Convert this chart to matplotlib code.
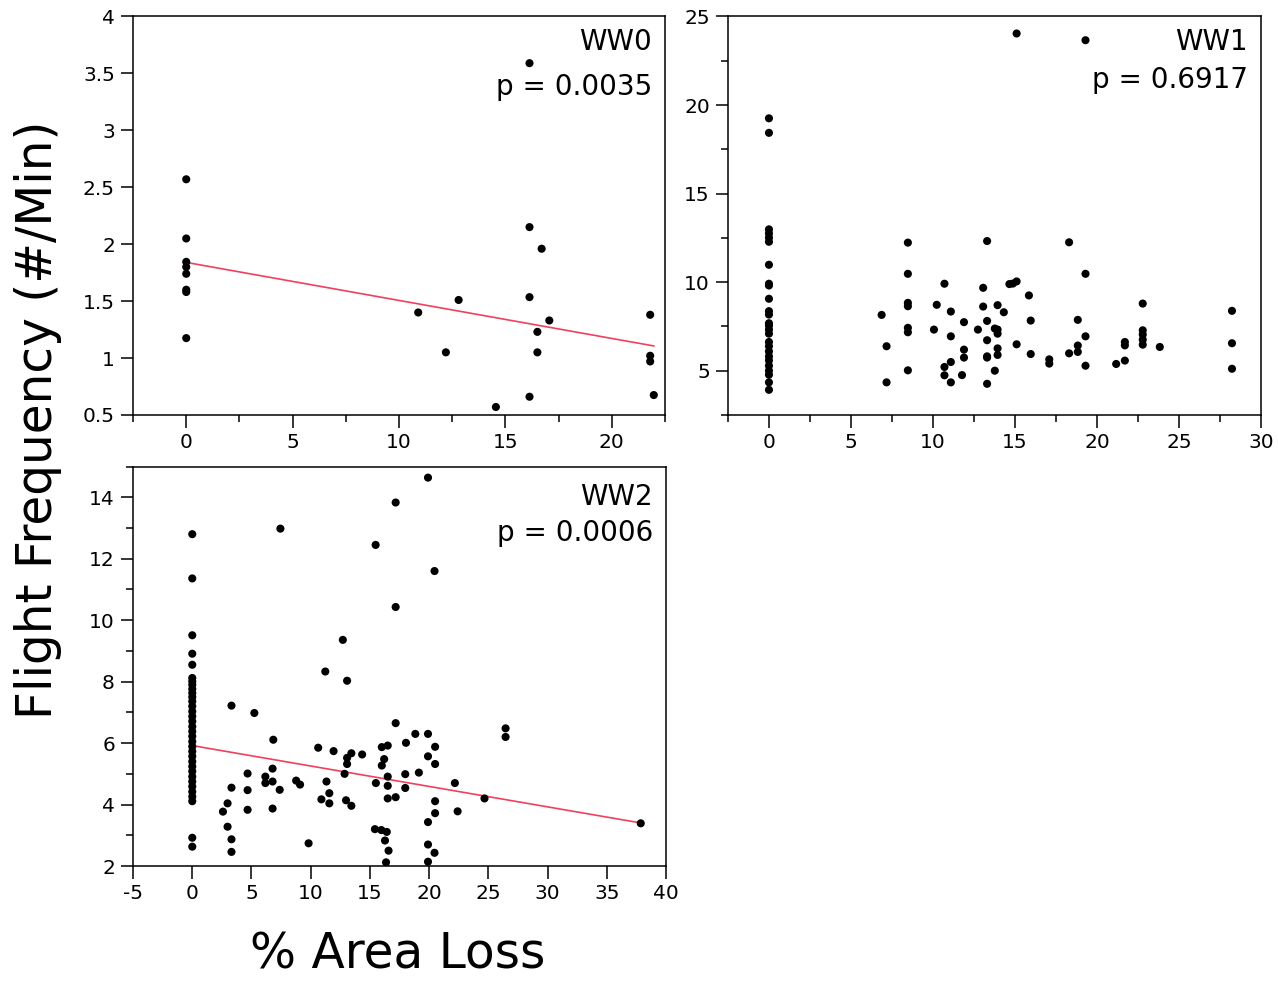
import numpy as np
import matplotlib
matplotlib.use('Agg')
import matplotlib.pyplot as plt
from matplotlib.ticker import MultipleLocator, FuncFormatter

# % area loss (x) and flight frequency (y) for each panel
ww0_x = [0, 0, 0, 0, 0, 0, 0, 0, 10.9, 12.2, 12.8, 14.55, 16.13, 16.13, 16.13, 16.13,
         16.5, 16.5, 16.7, 17.06, 21.8, 21.8, 21.8, 21.97]
ww0_y = [2.57, 2.05, 1.845, 1.80, 1.74, 1.60, 1.58, 1.175, 1.40, 1.05, 1.51, 0.57, 3.59, 2.15, 1.535, 0.66,
         1.23, 1.05, 1.96, 1.33, 1.38, 1.02, 0.97, 0.675]

ww1_x = [0] * 26 + [
    6.87, 7.17, 7.17, 8.47, 8.47, 8.47, 8.47, 8.47, 8.47, 8.47, 10.06, 10.23, 10.7, 10.7, 10.7,
    11.09, 11.09, 11.09, 11.09, 11.77, 11.89, 11.89, 11.89, 12.74, 13.06, 13.06, 13.3, 13.3, 13.3,
    13.3, 13.3, 13.3, 13.77, 13.77, 13.94, 13.94, 13.94, 13.94, 13.94, 14.32, 14.66, 14.87, 15.1,
    15.1, 15.1, 15.85, 15.96, 15.96, 17.09, 17.09, 18.3, 18.3, 18.83, 18.83, 18.83, 19.3, 19.3,
    19.3, 19.3, 21.17, 21.7, 21.7, 21.7, 22.79, 22.79, 22.79, 22.79, 22.79, 23.83, 28.23, 28.23, 28.23]
ww1_y = [19.25, 18.43, 12.98, 12.75, 12.51, 12.28, 10.98, 9.91, 9.81, 9.06, 8.36, 8.17, 7.68, 7.55,
         7.32, 7.09, 6.62, 6.38, 6.09, 5.81, 5.58, 5.28, 5.0, 4.77, 4.34, 3.92] + [
    8.15, 6.38, 4.34, 12.23, 10.47, 8.83, 8.64, 7.42, 7.17, 5.02, 7.32, 8.72, 9.91, 5.21, 4.74,
    8.34, 6.94, 5.49, 4.34, 4.75, 7.74, 6.19, 5.74, 7.32, 9.68, 8.62, 12.32, 7.81, 6.72,
    5.81, 5.74, 4.26, 5.0, 7.38, 8.7, 7.32, 7.09, 6.26, 5.89, 8.3, 9.89, 9.92, 24.04,
    10.04, 6.49, 9.25, 7.83, 5.94, 5.64, 5.4, 12.25, 5.98, 7.87, 6.42, 6.06, 23.66, 10.47,
    6.94, 5.28, 5.38, 6.62, 6.43, 5.57, 8.79, 7.28, 7.04, 6.75, 6.47, 6.34, 8.38, 6.55, 5.11]

ww2_x = [0] * 34 + [
    19.9, 17.17, 7.44, 15.48, 20.45, 17.17, 12.71, 11.23, 13.07, 3.31, 5.24, 6.84, 17.17, 18.83,
    19.9, 18.04, 20.5, 26.45, 26.45, 10.63, 11.93, 13.43, 14.34, 13.07, 13.07, 12.86, 16.0, 16.5,
    16.2, 16.0, 16.5, 16.5, 16.5, 17.17, 15.5, 17.98, 17.98, 19.13, 19.9, 20.5, 22.17, 24.67,
    20.5, 20.5, 22.4, 19.9, 19.9, 20.45, 19.9, 16.36, 16.57, 16.27, 15.42, 15.96, 16.42, 37.86,
    11.33, 11.57, 10.9, 11.57, 12.98, 13.43, 9.82, 8.77, 9.1, 6.78, 6.78, 6.17, 6.17, 7.38,
    6.78, 4.67, 4.67, 4.67, 3.31, 2.98, 2.59, 2.98, 3.31, 3.31]
ww2_y = [12.8, 11.36, 9.51, 8.91, 8.55, 8.12, 8.01, 7.90, 7.76, 7.63, 7.50, 7.36, 7.20, 7.03, 6.87,
         6.71, 6.54, 6.38, 6.22, 6.05, 5.89, 5.73, 5.57, 5.40, 5.24, 5.08, 4.91, 4.75, 4.59, 4.42,
         4.26, 4.11, 2.92, 2.63] + [
    14.64, 13.83, 12.98, 12.45, 11.6, 10.43, 9.36, 8.33, 8.03, 7.22, 6.98, 6.11, 6.65, 6.30,
    6.30, 6.01, 5.88, 6.48, 6.2, 5.85, 5.74, 5.67, 5.63, 5.52, 5.32, 5.0, 5.87, 5.92,
    5.48, 5.27, 4.91, 4.61, 4.2, 4.24, 4.7, 4.99, 4.54, 5.04, 5.57, 5.32, 4.7, 4.2,
    4.11, 3.72, 3.78, 3.43, 2.7, 2.43, 2.14, 2.12, 2.5, 2.83, 3.2, 3.17, 3.11, 3.39,
    4.75, 4.37, 4.17, 4.04, 4.14, 3.96, 2.74, 4.78, 4.65, 5.17, 4.75, 4.91, 4.7, 4.48,
    3.87, 5.01, 4.47, 3.83, 4.55, 4.04, 3.77, 3.28, 2.87, 2.46]

# fitted lines (intercept, slope)
ww0_fit = (1.84, -0.0334)
ww2_fit = (5.92, -0.0665)

panels = [
    # name, p-text, x, y, fit, rect, xlim, ylim, xmaj, xmin, ymaj, ymin, text y positions
    ('WW0', 'p = 0.0035', ww0_x, ww0_y, ww0_fit, [0.1041, 0.5770, 0.4163, 0.4062],
     (-2.5, 22.5), (0.5, 4), 5, 2.5, 0.5, None, (0.936, 0.823)),
    ('WW1', 'p = 0.6917', ww1_x, ww1_y, None, [0.5696, 0.5770, 0.4171, 0.4062],
     (-2.5, 30), (2.5, 25), 5, 2.5, 5, 2.5, (0.936, 0.840)),
    ('WW2', 'p = 0.0006', ww2_x, ww2_y, ww2_fit, [0.1041, 0.1172, 0.4171, 0.4072],
     (-5, 40), (2, 15), 5, None, 2, 1, (0.924, 0.834)),
]

fig = plt.figure(figsize=(12.78, 9.81), dpi=100)

for name, ptxt, xs, ys, fit, rect, xlim, ylim, xmaj, xmin, ymaj, ymin, ty in panels:
    ax = fig.add_axes(rect)
    ax.scatter(xs, ys, s=34, color='black', edgecolors='none', zorder=3)
    if fit is not None:
        xx = np.array([0, max(xs)])
        ax.plot(xx, fit[0] + fit[1] * xx, color='#f0405c', lw=1.2, zorder=2)
    ax.set_xlim(*xlim)
    ax.set_ylim(*ylim)
    ax.xaxis.set_major_locator(MultipleLocator(xmaj))
    if xmin:
        ax.xaxis.set_minor_locator(MultipleLocator(xmin))
    ax.yaxis.set_major_locator(MultipleLocator(ymaj))
    if ymin:
        ax.yaxis.set_minor_locator(MultipleLocator(ymin))
    fmt = FuncFormatter(lambda v, pos: '%g' % v)
    ax.xaxis.set_major_formatter(fmt)
    ax.yaxis.set_major_formatter(fmt)
    ax.tick_params(which='major', direction='out', length=9, width=1.1, labelsize=14.5, pad=4)
    ax.tick_params(which='minor', direction='out', length=5, width=1.1)
    for sp in ax.spines.values():
        sp.set_linewidth(1.1)
    ax.text(0.9756, ty[0], name, transform=ax.transAxes, ha='right', va='center', fontsize=20)
    ax.text(0.9756, ty[1], ptxt, transform=ax.transAxes, ha='right', va='center', fontsize=20)

fig.text(0.030, 0.572, 'Flight Frequency (#/Min)', rotation=90, ha='center', va='center', fontsize=35)
fig.text(0.3115, 0.027, '% Area Loss', ha='center', va='center', fontsize=35)

fig.savefig('out.png', dpi=100)
